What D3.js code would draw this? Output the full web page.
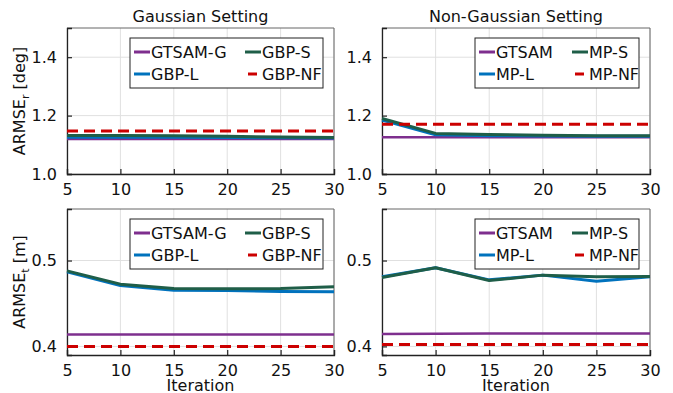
<!DOCTYPE html>
<html><head><meta charset="utf-8">
<script src="https://cdn.jsdelivr.net/npm/d3@7"></script>
<style>body{margin:0;background:#fff}svg{display:block;font-family:"DejaVu Sans",sans-serif}</style>
</head><body><svg id="c" width="673" height="393"></svg>
<script>
const iterations = [5, 10, 15, 20, 25, 30];
const xTicks = [5, 10, 15, 20, 25, 30];
const rotTicks = [1.0, 1.2, 1.4];
const transTicks = [0.4, 0.5];

// Gaussian setting, rotation error
const gRotGTSAM = [1.120, 1.120, 1.120, 1.120, 1.120, 1.120];
const gRotL     = [1.126, 1.126, 1.126, 1.125, 1.124, 1.123];
const gRotS     = [1.132, 1.132, 1.131, 1.129, 1.127, 1.125];
const gRotNF    = [1.147, 1.147, 1.147, 1.147, 1.147, 1.147];
// Non-Gaussian setting, rotation error
const nRotGTSAM = [1.126, 1.126, 1.126, 1.126, 1.126, 1.126];
const nRotL     = [1.185, 1.134, 1.131, 1.130, 1.129, 1.129];
const nRotS     = [1.190, 1.139, 1.135, 1.133, 1.131, 1.131];
const nRotNF    = [1.170, 1.170, 1.170, 1.170, 1.170, 1.170];
// Gaussian setting, translation error
const gTrGTSAM = [0.414, 0.414, 0.414, 0.414, 0.414, 0.414];
const gTrL     = [0.487, 0.471, 0.4655, 0.465, 0.464, 0.4637];
const gTrS     = [0.488, 0.4725, 0.4675, 0.467, 0.4675, 0.4694];
const gTrNF    = [0.400, 0.400, 0.400, 0.400, 0.400, 0.400];
// Non-Gaussian setting, translation error
const nTrGTSAM = [0.4145, 0.4148, 0.4149, 0.415, 0.415, 0.415];
const nTrL     = [0.481, 0.4915, 0.4775, 0.483, 0.476, 0.481];
const nTrS     = [0.4803, 0.4915, 0.4767, 0.483, 0.481, 0.4815];
const nTrNF    = [0.4023, 0.4023, 0.4023, 0.4023, 0.4023, 0.4023];

const gNames = ["GTSAM-G", "GBP-L", "GBP-S", "GBP-NF"];
const nNames = ["GTSAM", "MP-L", "MP-S", "MP-NF"];
const colors = ["#7E2F8E", "#0072BD", "#1F5E48", "#CC0000"];

const svg = d3.select("#c");
const FS = 16;

const panels = [
  {x0:67, x1:334, y0:28, y1:174, dom:[1.0,1.5], ticks:rotTicks, fmt:d3.format(".1f"), series:[gRotGTSAM,gRotL,gRotS,gRotNF], names:gNames, title:"Gaussian Setting", ylab:["ARMSE","r"," [deg]"], xlab:false, legW:193, col2:111},
  {x0:382, x1:650, y0:28, y1:174, dom:[1.0,1.5], ticks:rotTicks, fmt:d3.format(".1f"), series:[nRotGTSAM,nRotL,nRotS,nRotNF], names:nNames, title:"Non-Gaussian Setting", ylab:null, xlab:false, legW:164, col2:93},
  {x0:67, x1:334, y0:209, y1:355, dom:[0.39,0.56], ticks:transTicks, fmt:d3.format(".1f"), series:[gTrGTSAM,gTrL,gTrS,gTrNF], names:gNames, title:null, ylab:["ARMSE","t"," [m]"], xlab:true, legW:193, col2:111},
  {x0:382, x1:650, y0:209, y1:355, dom:[0.39,0.56], ticks:transTicks, fmt:d3.format(".1f"), series:[nTrGTSAM,nTrL,nTrS,nTrNF], names:nNames, title:null, ylab:null, xlab:true, legW:164, col2:93}
];

panels.forEach(p => {
  const x = d3.scaleLinear().domain([5,30]).range([p.x0,p.x1]);
  const y = d3.scaleLinear().domain(p.dom).range([p.y1,p.y0]);
  const g = svg.append("g");
  // grid
  g.selectAll(".gx").data(xTicks).join("line")
    .attr("x1",d=>x(d)).attr("x2",d=>x(d)).attr("y1",p.y0).attr("y2",p.y1)
    .attr("stroke","#e0e0e0").attr("stroke-width",1);
  g.selectAll(".gy").data(p.ticks).join("line")
    .attr("x1",p.x0).attr("x2",p.x1).attr("y1",d=>y(d)).attr("y2",d=>y(d))
    .attr("stroke","#e0e0e0").attr("stroke-width",1);
  // frame top/right
  g.append("line").attr("x1",p.x0).attr("x2",p.x1).attr("y1",p.y0).attr("y2",p.y0).attr("stroke","#666");
  g.append("line").attr("x1",p.x1).attr("x2",p.x1).attr("y1",p.y0).attr("y2",p.y1).attr("stroke","#666");
  // axes
  const ax = d3.axisBottom(x).tickValues(xTicks).tickSize(-5).tickPadding(10).tickFormat(d3.format("d"));
  const gx = g.append("g").attr("transform",`translate(0,${p.y1})`).call(ax);
  const ay = d3.axisLeft(y).tickValues(p.ticks).tickSize(-5).tickPadding(10).tickFormat(p.fmt);
  const gy = g.append("g").attr("transform",`translate(${p.x0},0)`).call(ay);
  [gx,gy].forEach(a => {
    a.select(".domain").attr("stroke","#222").attr("stroke-width",1.3);
    a.selectAll(".tick line").attr("stroke","#222").attr("stroke-width",1.2);
    a.selectAll(".tick text").attr("font-size",FS).attr("font-family","DejaVu Sans").attr("fill","#111");
  });
  gx.selectAll(".tick text").attr("dy","0.71em");
  // lines
  const line = d3.line().x((d,i)=>x(iterations[i])).y(d=>y(d));
  const widths = [2.5, 3, 3, 3];
  const plotG = g.append("g");
  p.series.forEach((s,k) => {
    plotG.append("path").datum(s).attr("d",line).attr("fill","none")
      .attr("stroke",colors[k]).attr("stroke-width",widths[k])
      .attr("stroke-dasharray", k===3 ? "11,6" : null)
      .attr("stroke-linejoin","round");
  });
  // legend
  const lx = p.x1 - 11 - p.legW, ly = p.y0 + 10;
  const lg = g.append("g").attr("transform",`translate(${lx},${ly})`);
  lg.append("rect").attr("width",p.legW).attr("height",50).attr("fill","#fff").attr("stroke","#222").attr("stroke-width",1);
  const pos = [[0,0],[0,1],[1,0],[1,1]];
  p.names.forEach((n,k) => {
    const cx = 4 + pos[k][0]*p.col2, cy = 14 + pos[k][1]*22;
    if (k===3) {
      lg.append("line").attr("x1",cx+3).attr("x2",cx+12).attr("y1",cy).attr("y2",cy).attr("stroke",colors[k]).attr("stroke-width",3);
    } else {
      lg.append("line").attr("x1",cx).attr("x2",cx+16).attr("y1",cy).attr("y2",cy).attr("stroke",colors[k]).attr("stroke-width",3);
    }
    lg.append("text").attr("x",cx+17).attr("y",cy).attr("dy","0.36em").attr("font-size",FS).attr("fill","#111").text(n);
  });
  if (p.title) {
    svg.append("text").attr("x",(p.x0+p.x1)/2).attr("y",p.y0-6).attr("text-anchor","middle").attr("font-size",FS).attr("fill","#111").text(p.title);
  }
  if (p.ylab) {
    const t = svg.append("text").attr("transform",`translate(25,${(p.y0+p.y1)/2}) rotate(-90)`).attr("text-anchor","middle").attr("font-size",FS).attr("fill","#111");
    t.append("tspan").text(p.ylab[0]);
    t.append("tspan").attr("font-size",11).attr("dy",4).text(p.ylab[1]);
    t.append("tspan").attr("dy",-4).text(p.ylab[2]);
  }
  if (p.xlab) {
    svg.append("text").attr("x",(p.x0+p.x1)/2).attr("y",391).attr("text-anchor","middle").attr("font-size",FS).attr("fill","#111").text("Iteration");
  }
});
</script></body></html>
